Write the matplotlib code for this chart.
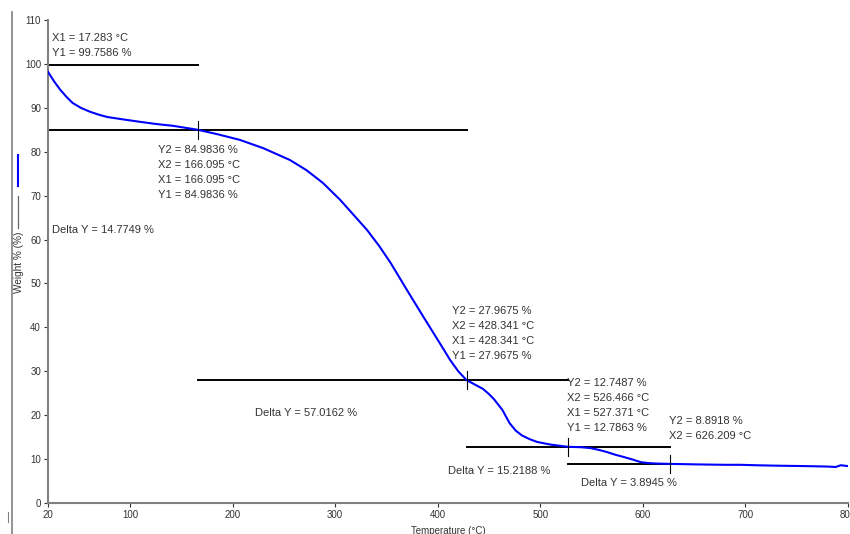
import matplotlib
matplotlib.use('Agg')
import matplotlib.pyplot as plt
from matplotlib.lines import Line2D

plt.rcParams['font.family'] = ['Liberation Sans', 'DejaVu Sans']

# TGA curve
temp = [20, 26, 32, 38, 44, 52, 61, 70, 78, 95, 110, 126, 142, 166, 185, 207, 230, 256,
        272, 288, 305, 318, 331, 343, 354, 370, 386, 402, 412, 420, 428, 436, 444, 450,
        455, 463, 470, 476, 482, 490, 497, 510, 527, 540, 549, 557, 565, 573, 581, 590,
        598, 605, 612, 627, 640, 650, 665, 680, 695, 710, 730, 745, 760, 770, 780, 788,
        793, 800]
weight = [98.2, 96.0, 94.1, 92.5, 91.1, 90.0, 89.1, 88.4, 87.9, 87.3, 86.8, 86.3, 85.9, 85.0,
          84.0, 82.7, 80.8, 78.1, 75.8, 72.9, 69.0, 65.6, 62.2, 58.5, 54.7, 48.5, 42.4, 36.4,
          32.6, 30.0, 28.0, 27.0, 26.0, 24.8, 23.6, 21.2, 18.2, 16.5, 15.4, 14.5, 13.9, 13.3,
          12.8, 12.7, 12.5, 12.1, 11.6, 11.0, 10.5, 9.9, 9.3, 9.1, 9.0, 8.9, 8.85, 8.8, 8.75,
          8.7, 8.7, 8.6, 8.5, 8.45, 8.4, 8.35, 8.3, 8.2, 8.6, 8.4]

# analysis cursor lines: y level, x start, x end
cursor_y = [99.7586, 84.9836, 27.9675, 12.7863, 8.8918]
cursor_x0 = [20, 20, 166.095, 428.341, 527.371]
cursor_x1 = [166.095, 428.341, 527.371, 626.209, 626.209]

# small vertical marks on the cursor lines
mark_x = [166.095, 428.341, 527.371, 626.209]
mark_y = [84.9836, 27.9675, 12.7863, 8.8918]

# annotation blocks: (x, y of first line, lines)
notes = [
    (23.9, 105.9, ['X1 = 17.283 \u00b0C', 'Y1 = 99.7586 %']),
    (127.3, 80.4, ['Y2 = 84.9836 %', 'X2 = 166.095 \u00b0C', 'X1 = 166.095 \u00b0C', 'Y1 = 84.9836 %']),
    (23.9, 62.2, ['Delta Y = 14.7749 %']),
    (413.9, 43.7, ['Y2 = 27.9675 %', 'X2 = 428.341 \u00b0C', 'X1 = 428.341 \u00b0C', 'Y1 = 27.9675 %']),
    (221.8, 20.5, ['Delta Y = 57.0162 %']),
    (526.0, 27.3, ['Y2 = 12.7487 %', 'X2 = 526.466 \u00b0C', 'X1 = 527.371 \u00b0C', 'Y1 = 12.7863 %']),
    (625.5, 18.7, ['Y2 = 8.8918 %', 'X2 = 626.209 \u00b0C']),
    (410.0, 7.3, ['Delta Y = 15.2188 %']),
    (539.7, 4.55, ['Delta Y = 3.8945 %']),
]

xticks = [20, 100, 200, 300, 400, 500, 600, 700, 800]
yticks = list(range(0, 111, 10))

fig = plt.figure(figsize=(8.5, 5.34), dpi=100)
ax = fig.add_axes([48 / 850, 1 - 503 / 534, 800 / 850, 483 / 534])

for y, x0, x1 in zip(cursor_y, cursor_x0, cursor_x1):
    ax.plot([x0, x1], [y, y], color='black', lw=1.4, zorder=2)
for x, y in zip(mark_x, mark_y):
    ax.plot([x, x], [y - 2.1, y + 2.1], color='black', lw=0.8, zorder=4)

ax.plot(temp, weight, color='#0000ff', lw=1.5, zorder=3)

for x, y, lines in notes:
    for i, s in enumerate(lines):
        ax.text(x, y - i * 3.42, s, fontsize=8, color='#333333', ha='left', va='center')

ax.set_xlim(20, 800)
ax.set_ylim(0, 110)
ax.set_xticks(xticks)
ax.set_yticks(yticks)
ax.tick_params(labelsize=7, colors='#333333', length=3, width=0.8, pad=2)
for side in ['top', 'right']:
    ax.spines[side].set_visible(False)
for side in ['left', 'bottom']:
    ax.spines[side].set_color('#808080')
    ax.spines[side].set_linewidth(1.5)
ax.set_xlabel('Temperature (\u00b0C)', fontsize=7, color='#333333', labelpad=4)

# y label with legend line samples, as in the screenshot
fig.text(19 / 850, 1 - 262 / 534, 'Weight % (%)', rotation=90, fontsize=7.2,
         color='#333333', ha='center', va='center')
fig.add_artist(Line2D([18 / 850, 18 / 850], [1 - 155 / 534, 1 - 186 / 534], color='#0000ff', lw=1.5))
fig.add_artist(Line2D([18 / 850, 18 / 850], [1 - 196 / 534, 1 - 228 / 534], color='#666666', lw=0.9))
fig.add_artist(Line2D([12 / 850, 12 / 850], [0, 1 - 12 / 534], color='#808080', lw=1.2))
fig.add_artist(Line2D([8 / 850, 8 / 850], [1 - 512 / 534, 1 - 522 / 534], color='#808080', lw=0.8))

fig.savefig('out.png', dpi=100)
